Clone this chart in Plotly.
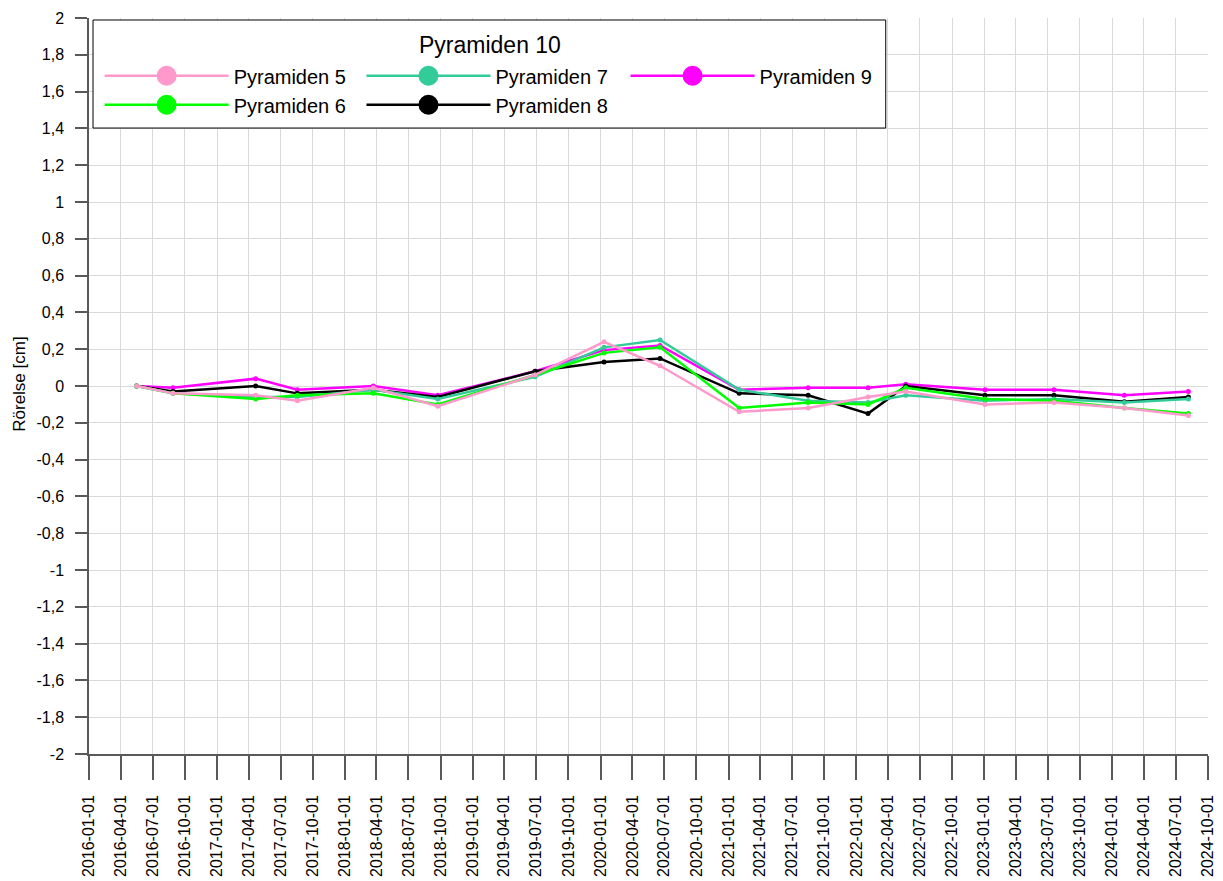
import plotly.graph_objects as go

dates = ["2016-05-16", "2016-08-28", "2017-04-21", "2017-08-18", "2018-03-23",
         "2018-09-23", "2019-06-28", "2020-01-11", "2020-06-19", "2021-01-31",
         "2021-08-16", "2022-02-03", "2022-05-22", "2023-01-03", "2023-07-19",
         "2024-02-05", "2024-08-06"]

p5 = [0, -0.04, -0.05, -0.08, -0.01, -0.11, 0.06, 0.24, 0.11, -0.14, -0.12, -0.06, -0.03, -0.10, -0.09, -0.12, -0.16]
p6 = [0, -0.04, -0.07, -0.05, -0.04, -0.10, 0.06, 0.18, 0.21, -0.12, -0.09, -0.10, -0.01, -0.07, -0.08, -0.12, -0.15]
p7 = [0, -0.04, -0.06, -0.06, -0.02, -0.07, 0.05, 0.21, 0.25, -0.02, -0.08, -0.09, -0.05, -0.08, -0.07, -0.09, -0.07]
p8 = [0, -0.03, 0.00, -0.04, -0.02, -0.06, 0.08, 0.13, 0.15, -0.04, -0.05, -0.15, 0.00, -0.05, -0.05, -0.085, -0.06]
p9 = [0, -0.01, 0.04, -0.02, 0.00, -0.05, 0.08, 0.195, 0.22, -0.02, -0.01, -0.01, 0.01, -0.02, -0.02, -0.05, -0.03]

series_names = ["Pyramiden 5", "Pyramiden 6", "Pyramiden 7", "Pyramiden 8", "Pyramiden 9"]
series_values = [p5, p6, p7, p8, p9]
series_colors = ["#FF99CC", "#00FF00", "#33CC99", "#000000", "#FF00FF"]
legend_ids = ["legend", "legend", "legend2", "legend2", "legend3"]

x_ticks = []
for yr in range(2016, 2025):
    for m in ("01", "04", "07", "10"):
        x_ticks.append(f"{yr}-{m}-01")

y_ticks = [round(-2 + 0.2 * i, 1) for i in range(21)]
y_ticktext = [("%g" % v).replace(".", ",") for v in y_ticks]

chart_title = "Pyramiden 10"
y_title = "Rörelse [cm]"

fig = go.Figure()

# data traces (draw 9 first so 5 is on top)
for name, vals, col in reversed(list(zip(series_names, series_values, series_colors))):
    fig.add_trace(go.Scatter(
        x=dates, y=vals, mode="lines+markers", name=name,
        line=dict(color=col, width=2.5),
        marker=dict(color=col, size=5),
        showlegend=False,
    ))

# legend entries
for name, col, lg in zip(series_names, series_colors, legend_ids):
    fig.add_trace(go.Scatter(
        x=[None], y=[None], mode="lines+markers", name=name,
        line=dict(color=col, width=2.5),
        marker=dict(color=col, size=16, line=dict(color=col, width=4)),
        legend=lg, showlegend=True,
    ))

font_family = "Liberation Sans, Arial, sans-serif"
legend_common = dict(
    orientation="v", xanchor="left", yanchor="top",
    bgcolor="rgba(0,0,0,0)", borderwidth=0,
    font=dict(family=font_family, size=20, color="#000"),
    itemwidth=124, tracegroupgap=0,
)

fig.update_layout(
    width=1215, height=873,
    margin=dict(l=81, r=15, t=10, b=127),
    paper_bgcolor="white", plot_bgcolor="white",
    font=dict(family=font_family, size=16, color="#000"),
    legend=dict(x=0.0095, y=0.948, **legend_common),
    legend2=dict(x=0.2435, y=0.948, **legend_common),
    legend3=dict(x=0.4795, y=0.948, **legend_common),
    shapes=[dict(type="rect", xref="paper", yref="paper",
                 x0=0.0036, x1=0.712, y0=0.8505, y1=0.9973,
                 line=dict(color="#000", width=1), fillcolor="white",
                 layer="above")],
    annotations=[
        dict(text=chart_title, xref="paper", yref="paper",
             x=0.358, y=0.963, xanchor="center", yanchor="middle",
             showarrow=False, font=dict(family=font_family, size=23, color="#000")),
        dict(text=y_title, xref="paper", yref="paper", textangle=-90,
             x=-0.0617, y=0.503, xanchor="center", yanchor="middle",
             showarrow=False, font=dict(family=font_family, size=17, color="#000")),
    ],
)

fig.update_xaxes(
    type="date", range=["2016-01-01", "2024-10-01"], automargin=False,
    tickmode="array", tickvals=x_ticks, ticktext=x_ticks, tickangle=-90,
    showgrid=True, gridcolor="#D9D9D9", gridwidth=1,
    showline=True, linecolor="#595959", linewidth=1.5,
    ticks="outside", ticklen=24, tickcolor="#595959", tickwidth=1.5,
    ticklabelstandoff=9,
    tickfont=dict(size=16, family=font_family, color="#000"),
    zeroline=False,
)
fig.update_yaxes(
    range=[-2, 2], automargin=False,
    tickmode="array", tickvals=y_ticks, ticktext=y_ticktext,
    showgrid=True, gridcolor="#D9D9D9", gridwidth=1,
    showline=True, linecolor="#595959", linewidth=1.5,
    ticks="outside", ticklen=12, tickcolor="#595959", tickwidth=1.5,
    ticklabelstandoff=8,
    tickfont=dict(size=16, family=font_family, color="#000"),
    zeroline=False,
)

fig.write_html("out.html")
